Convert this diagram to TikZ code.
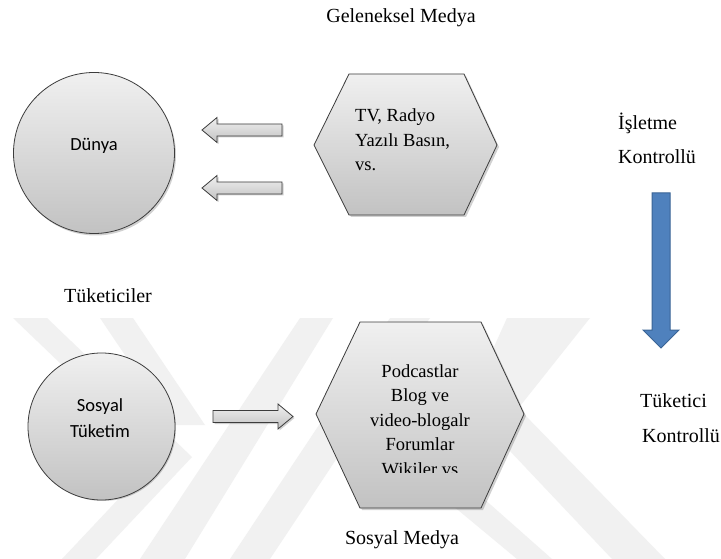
\documentclass[tikz,border=0pt]{standalone}
\usepackage{fontspec}
\setmainfont{Liberation Serif}
\newfontfamily\calib{Carlito}
\definecolor{wm}{HTML}{F1F1F1}
\definecolor{shapetop}{HTML}{F0F0F0}
\definecolor{shapebot}{HTML}{C2C2C2}
\definecolor{edge}{HTML}{3C3C3C}
\definecolor{blueA}{HTML}{4F81BD}
\definecolor{blueB}{HTML}{3A6496}
\tikzset{
  circ/.style={circle, inner sep=0pt, top color=shapetop, bottom color=shapebot, draw=edge, line width=0.8pt},
  hexfill/.style={top color=shapetop, bottom color=shapebot, draw=edge, line width=0.8pt},
  shadowcopy/.style={fill=black, opacity=0.18},
  blockfill/.style={top color=shapetop, bottom color=shapebot, draw=edge, line width=0.8pt},
  leftblock/.pic={
    \fill[shadowcopy] (41.5,-4.5) -- (-23.5,-4.5) -- (-23.5,-11) -- (-38.5,1.5) -- (-23.5,14) -- (-23.5,7.5) -- (41.5,7.5) -- cycle;
    \path[blockfill] (40,-6) -- (-25,-6) -- (-25,-12.5) -- (-40,0) -- (-25,12.5) -- (-25,6) -- (40,6) -- cycle;},
  rightblock/.pic={
    \fill[shadowcopy] (-38.5,-4.5) -- (26.5,-4.5) -- (26.5,-11) -- (41.5,1.5) -- (26.5,14) -- (26.5,7.5) -- (-38.5,7.5) -- cycle;
    \path[blockfill] (-40,-6) -- (25,-6) -- (25,-12.5) -- (40,0) -- (25,12.5) -- (25,6) -- (-40,6) -- cycle;},
  downblue/.pic={
    \path[fill=blueA, draw=blueB, line width=1pt] (-9,-77.5) -- (9,-77.5) -- (9,59.5) -- (18,59.5) -- (0,77.5) -- (-18,59.5) -- (-9,59.5) -- cycle;},
  lbl/.style={inner sep=0pt, font=\fontsize{20}{24}\selectfont},
  lblL/.style={lbl, anchor=west},
  sanslbl/.style={inner sep=0pt, align=center, font=\calib\fontsize{18.5}{26}\selectfont},
  hextext/.style={inner sep=0pt, font=\fontsize{18.5}{24.5}\selectfont}
}
\begin{document}
\begin{tikzpicture}[x=1pt,y=-1pt]
\useasboundingbox (0,0) rectangle (721,559);
\fill[white] (0,0) rectangle (721,559);
% watermark
\fill[wm] (13,318) -- (47,318) -- (192,457) -- (96,559) -- (62,559) -- (158,457) -- cycle;
\fill[wm] (100,318) -- (133,318) -- (205,425) -- (172,425) -- cycle;
\fill[wm] (140,559) -- (185,559) -- (333,318) -- (300,318) -- cycle;
\fill[wm] (230,559) -- (270,559) -- (430,318) -- (390,318) -- cycle;
\fill[wm] (507,318) -- (590,318) -- (505,425) -- (470,400) -- cycle;
\fill[wm] (492,432) -- (522,412) -- (665,559) -- (612,559) -- cycle;
\fill[wm] (452,505) -- (474,490) -- (552,559) -- (517,559) -- cycle;

% titles
\node[lbl] (geleneksel) at (401,18) {Geleneksel Medya};
\node[lbl] (tuketiciler) at (108,296) {Tüketiciler};
\node[lbl] (sosyalmedya) at (402,540) {Sosyal Medya};
\node[lblL] (isletme) at (618,123) {İşletme};
\node[lblL] (kontrol1) at (618,157) {Kontrollü};
\node[lblL] (tuketici) at (640,401) {Tüketici};
\node[lblL] (kontrol2) at (642,436) {Kontrollü};

% Dünya circle
\fill[shadowcopy] (95.5,155) circle (80.5);
\node[circ, minimum size=161pt] (dunya) at (94,153) {};
\node[sanslbl] (dunyatxt) at (94,146) {Dünya};

% Sosyal Tüketim circle
\fill[shadowcopy] (103,428) circle (73);
\node[circ, minimum size=147pt] (sosyal) at (101.5,426.5) {};
\node[sanslbl] (sosyaltxt) at (100,418) {Sosyal\\Tüketim};

% hexagon 1
\fill[shadowcopy] (351,76) -- (466,76) -- (499,147) -- (466,217) -- (351,217) -- (316,147) -- cycle;
\path[hexfill] (349,74) -- (464,74) -- (497,145) -- (464,215) -- (349,215) -- (314,145) -- cycle;
\node[hextext, anchor=west, align=left] (hex1) at (355,140) {TV, Radyo\\Yazılı Basın,\\vs.};

% hexagon 2
\fill[shadowcopy] (362,324) -- (483,324) -- (526,416) -- (483,510) -- (362,510) -- (318,416) -- cycle;
\path[hexfill] (360,322) -- (481,322) -- (524,414) -- (481,508) -- (360,508) -- (316,414) -- cycle;
\begin{scope}
\clip (316,318) rectangle (524,472);
\node[hextext, align=center] (hex2) at (420,420) {Podcastlar\\Blog ve\\video-blogalr\\Forumlar\\Wikiler vs};
\end{scope}

% block arrows
\pic (arr1) at (242,130) {leftblock};
\pic (arr2) at (242,188) {leftblock};
\pic (arr3) at (253,416.5) {rightblock};

% blue arrow
\pic (blue) at (661,270.5) {downblue};
\end{tikzpicture}
\end{document}
